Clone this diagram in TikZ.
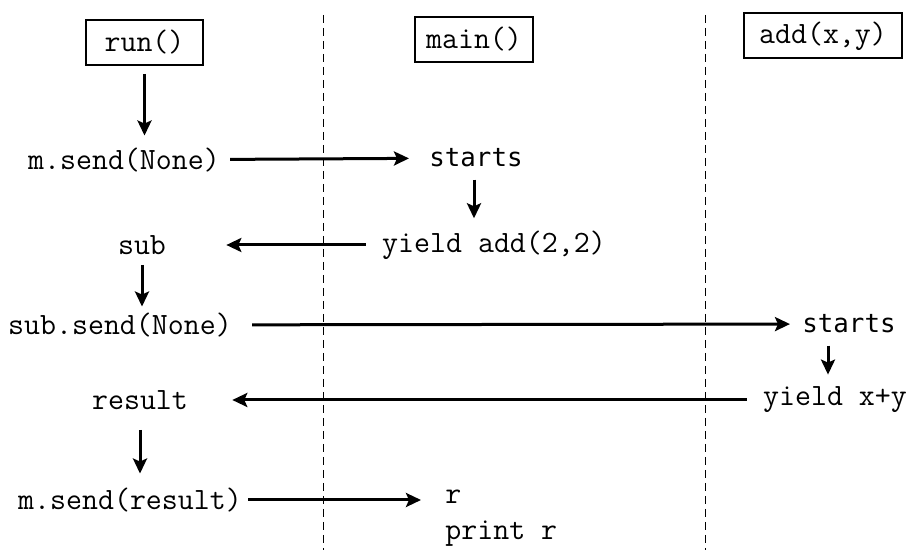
\documentclass[tikz,border=0pt]{standalone}
\usepackage{fontspec}
\newfontfamily\dejamono{DejaVu Sans Mono}
\usetikzlibrary{arrows.meta}

\begin{document}
\begin{tikzpicture}[x=0.5pt,y=-0.5pt,
        code/.style={font=\fontsize{15.5}{18}\selectfont\ttfamily,inner sep=2pt},
        state/.style={font=\fontsize{12.9}{16}\selectfont\dejamono,inner sep=2pt},
        func/.style={code,draw,line width=1pt,minimum height=22.5pt},
        flow/.style={-{Stealth[length=7.5pt,width=7pt,inset=1.5pt]},line width=1.5pt},
        lane/.style={line width=0.5pt,dash pattern=on 4pt off 2.5pt}]
            \useasboundingbox (0,0) rectangle (912,550);
            % Lanes:
            \draw[lane] (323,15) -- (323,550);
            \draw[lane] (705,15) -- (705,550);

            % Functions:
            \node[func,minimum width=58.5pt] (run) at (144.5,42.5) {run()};
            \node[func,minimum width=59pt] (main) at (474,39.5) {main()};
            \node[func,minimum width=79pt] (add) at (823,36) {add(x,y)};

            % Steps:
            \node[code] (sendm) at (124,160) {m.send(None)};
            \node[state] (starta) at (476,158) {starts};
            \node[code] (yielda) at (494,245) {yield add(2,2)};
            \node[code] (sub) at (142,245) {sub};
            \node[code] (sendsub) at (120,325) {sub.send(None)};
            \node[state] (startb) at (849,324) {starts};
            \node[code] (yieldb) at (835,400) {yield x+y};
            \node[code] (result) at (140,400) {result};
            \node[code] (sendres) at (130,500) {m.send(result)};
            \node[code,align=left,anchor=north west] (printr) at (441,486) {r\\print r};

            % Calls:
            \draw[flow,shorten <=4pt,shorten >=4pt] (run) -- (run |- sendm.north);
            \draw[flow,shorten <=3pt,shorten >=8pt] (sendm) -- (starta);
            \draw[flow,shorten <=4pt,shorten >=4pt] (starta.south -| 474,0) -- (yielda.north -| 474,0);
            \draw[flow,shorten <=6pt,shorten >=28pt] (yielda) -- (sub);
            \draw[flow,shorten <=3pt,shorten >=1pt] (sub) -- (sendsub.north -| sub);
            \draw[flow,shorten <=8pt,shorten >=4pt] (sendsub) -- (startb);
            \draw[flow,shorten <=4pt,shorten >=4pt] (startb.south -| 828,0) -- (yieldb.north -| 828,0);
            \draw[flow,shorten <=6pt,shorten >=20pt] (yieldb) -- (result);
            \draw[flow,shorten <=8pt,shorten >=5pt] (result) -- (sendres.north -| result);
            \draw[flow,shorten <=1pt,shorten >=10pt] (sendres) -- (sendres -| printr.west);
\end{tikzpicture}
\end{document}
